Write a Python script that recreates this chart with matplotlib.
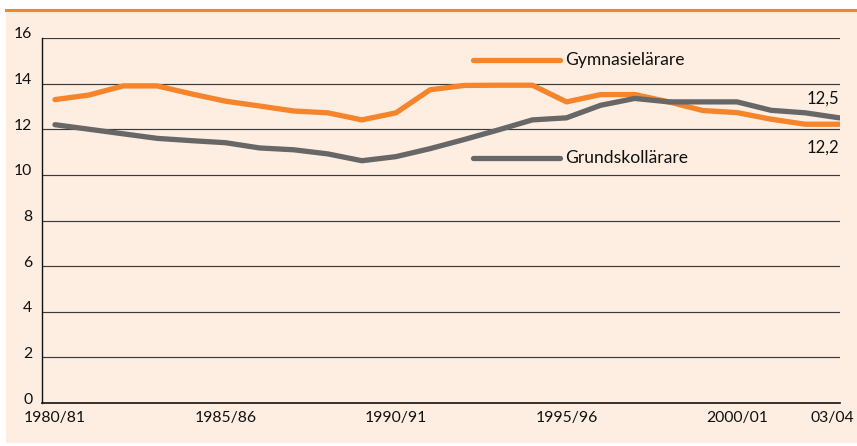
import matplotlib
matplotlib.use("Agg")
import matplotlib.pyplot as plt
import matplotlib.transforms as mtrans
from matplotlib.patches import Rectangle
from matplotlib.lines import Line2D

years = list(range(1980, 2004))
gymnasie = [13.3, 13.5, 13.9, 13.9, 13.55, 13.23, 13.02, 12.8, 12.72, 12.41,
            12.72, 13.73, 13.92, 13.93, 13.93, 13.2, 13.52, 13.52, 13.2, 12.82,
            12.73, 12.44, 12.22, 12.22]
grundskola = [12.2, 12.0, 11.8, 11.6, 11.5, 11.41, 11.18, 11.1, 10.92, 10.62,
              10.8, 11.15, 11.55, 11.97, 12.41, 12.5, 13.05, 13.35, 13.2, 13.2,
              13.2, 12.83, 12.72, 12.5]
tick_years = [1980, 1985, 1990, 1995, 2000, 2003]
tick_labels = ["1980/81", "1985/86", "1990/91", "1995/96", "2000/01", "03/04"]
yticks = [0, 2, 4, 6, 8, 10, 12, 14, 16]
series_names = ["Gymnasielärare", "Grundskollärare"]

ORANGE = "#F5842A"
GRAY = "#676767"
PEACH = "#FDEEE1"
FONT = ["Lato", "DejaVu Sans"]

plt.rcParams['font.family'] = FONT

W, H = 857, 446
fig = plt.figure(figsize=(W / 100, H / 100), dpi=100, facecolor="white")

# background panel and top rule
fig.patches.append(Rectangle((6 / W, 3 / H), 1 - 6 / W, (H - 11 - 3) / H,
                             transform=fig.transFigure, facecolor=PEACH,
                             edgecolor="none", zorder=-10))
fig.add_artist(Line2D([6 / W, 1], [1 - 10 / H, 1 - 10 / H], color=ORANGE,
                      lw=2.2, transform=fig.transFigure, zorder=-5))

ax = fig.add_axes([42 / W, (H - 403) / H, (840 - 42) / W, (403 - 38) / H])
ax.set_facecolor("none")
ax.set_zorder(5)

ax.plot(years, gymnasie, color=ORANGE, lw=3.8, solid_capstyle="round",
        solid_joinstyle="round", zorder=3)
ax.plot(years, grundskola, color=GRAY, lw=3.8, solid_capstyle="round",
        solid_joinstyle="round", zorder=3)

ax.set_xlim(1980 - 0.38, 2003.02)
ax.set_ylim(0, 16)
ax.set_yticks(yticks)
ax.set_yticklabels([str(v) for v in yticks])
ax.set_xticks(tick_years)
ax.set_xticklabels(tick_labels)
ax.tick_params(axis="both", length=0, labelsize=11.3, colors="#111111")
ax.tick_params(axis="y", pad=7)
ax.tick_params(axis="x", pad=6)

offset = mtrans.ScaledTranslation(0, 5 / 100, fig.dpi_scale_trans)
for lab in ax.get_yticklabels():
    lab.set_transform(lab.get_transform() + offset)
xoff = mtrans.ScaledTranslation(-7 / 100, 0, fig.dpi_scale_trans)
ax.get_xticklabels()[-1].set_transform(ax.get_xticklabels()[-1].get_transform() + xoff)

for y in yticks[1:]:
    ax.axhline(y, color="#3a3a3a", lw=0.85, zorder=1)

for s in ["right", "top"]:
    ax.spines[s].set_visible(False)
ax.spines["left"].set_color("#111111")
ax.spines["bottom"].set_color("#111111")
ax.spines["left"].set_linewidth(1.0)
ax.spines["bottom"].set_linewidth(1.2)

# inline legend
ax.plot([1992.25, 1994.8], [15.05, 15.05], color=ORANGE, lw=3.8,
        solid_capstyle="round", zorder=3)
ax.text(1994.95, 15.05, series_names[0], fontsize=12.6, va="center",
        ha="left", color="#111111")
ax.plot([1992.25, 1994.8], [10.75, 10.75], color=GRAY, lw=3.8,
        solid_capstyle="round", zorder=3)
ax.text(1994.95, 10.75, series_names[1], fontsize=12.6, va="center",
        ha="left", color="#111111")

# end annotations
ax.text(2003.0, 13.0, f"{grundskola[-1]:.1f}".replace(".", ","), fontsize=12,
        ha="right", va="bottom", color="#111111")
ax.text(2003.0, 11.55, f"{gymnasie[-1]:.1f}".replace(".", ","), fontsize=12,
        ha="right", va="top", color="#111111")

fig.savefig("out.png", dpi=100, facecolor="white")
